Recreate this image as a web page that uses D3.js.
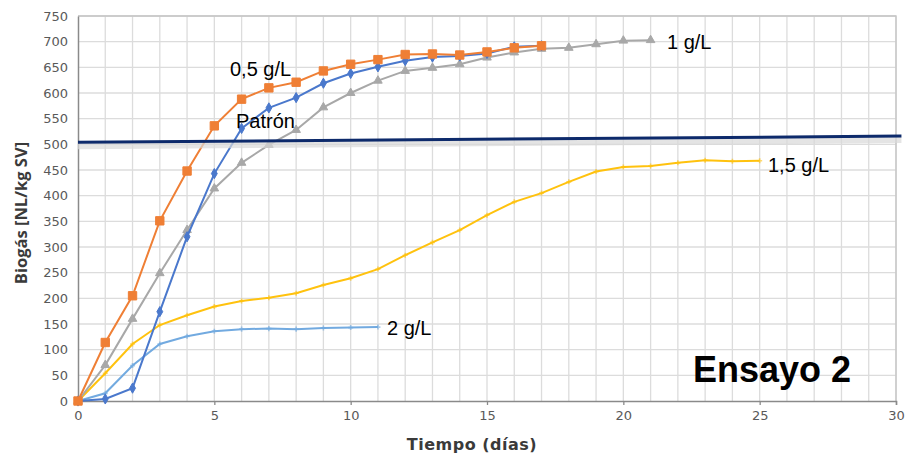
<!DOCTYPE html>
<html>
<head>
<meta charset="utf-8">
<script src="https://cdn.jsdelivr.net/npm/d3@7"></script>
<style>
  body { margin: 0; background: #fff; }
</style>
</head>
<body>
<div id="chart"></div>
<script>
// days for each series
const daysPatron = [0, 1, 2, 3, 4, 5, 6, 7, 8, 9, 10, 11, 12, 13, 14, 15, 16, 17];
const patron = [0, 4, 25, 174, 320, 443, 531, 571, 591, 619, 638, 651, 663, 670, 672, 677, 690, 692];

const daysHalf = [0, 1, 2, 3, 4, 5, 6, 7, 8, 9, 10, 11, 12, 13, 14, 15, 16, 17];
const half = [0, 114, 205, 351, 448, 536, 588, 610, 621, 643, 656, 665, 675, 676, 674, 680, 688, 692];

const daysOne = [0, 1, 2, 3, 4, 5, 6, 7, 8, 9, 10, 11, 12, 13, 14, 15, 16, 17, 18, 19, 20, 21];
const one = [0, 70, 160, 249, 333, 414, 464, 499, 528, 572, 600, 624, 643, 649, 656, 669, 679, 686, 688, 695, 702, 703];

const daysOneHalf = [0, 1, 2, 3, 4, 5, 6, 7, 8, 9, 10, 11, 12, 13, 14, 15, 16, 17, 18, 19, 20, 21, 22, 23, 24, 25];
const oneHalf = [0, 54, 111, 148, 167, 184, 195, 201, 210, 226, 239, 257, 284, 309, 333, 362, 388, 405, 427, 447, 456, 458, 464, 469, 467, 468];

const daysTwo = [0, 1, 2, 3, 4, 5, 6, 7, 8, 9, 10, 11];
const two = [0, 15, 69, 111, 126, 136, 140, 141, 140, 142, 143, 144];

// reference line (pasted over the chart, slightly tilted)
const refDays = [0, 30.2];
const refValues = [504, 516];

const xTicks = [0, 5, 10, 15, 20, 25, 30];
const yTicks = [0, 50, 100, 150, 200, 250, 300, 350, 400, 450, 500, 550, 600, 650, 700, 750];

const MARGIN = { LEFT: 78, TOP: 16 };
const WIDTH = 896 - 78, HEIGHT = 401 - 16;

const svg = d3.select("#chart").append("svg")
  .attr("width", 905)
  .attr("height", 453)
  .style("font-family", "DejaVu Sans")

const g = svg.append("g")
  .attr("transform", `translate(${MARGIN.LEFT}, ${MARGIN.TOP})`)

const x = d3.scaleLinear().domain([0, 30]).range([0, WIDTH]);
const y = d3.scaleLinear().domain([0, 750]).range([HEIGHT, 0]);

// grid: every day, every 50
g.append("g")
  .selectAll("line")
  .data(d3.range(1, 31))
  .join("line")
  .attr("x1", d => x(d)).attr("x2", d => x(d))
  .attr("y1", 0).attr("y2", HEIGHT)
  .attr("stroke", "#dcdcdc")
  .attr("stroke-width", 1.3)

g.append("g")
  .selectAll("line")
  .data(yTicks.slice(1))
  .join("line")
  .attr("x1", 0).attr("x2", WIDTH)
  .attr("y1", d => y(d)).attr("y2", d => y(d))
  .attr("stroke", "#dcdcdc")
  .attr("stroke-width", 1.3)

// frame top / right
g.append("path")
  .attr("d", `M0,0H${WIDTH}V${HEIGHT}`)
  .attr("fill", "none")
  .attr("stroke", "#c4c4c4")
  .attr("stroke-width", 1.3)

// axes
const xAxis = g.append("g")
  .attr("transform", `translate(0,${HEIGHT})`)
  .call(d3.axisBottom(x).tickValues(xTicks).tickSize(4).tickPadding(6))
const yAxis = g.append("g")
  .call(d3.axisLeft(y).tickValues(yTicks).tickSize(0).tickPadding(10))

;[xAxis, yAxis].forEach(a => {
  a.select(".domain").attr("stroke", "#8a8a8a").attr("stroke-width", 1.5)
  a.selectAll(".tick line").attr("stroke", "#8a8a8a").attr("stroke-width", 1.3)
  a.selectAll(".tick text")
    .attr("fill", "#595959")
    .style("font-family", "DejaVu Sans")
    .style("font-size", "13px")
})

// axis titles
svg.append("text")
  .attr("transform", "translate(27,213) rotate(-90)")
  .attr("text-anchor", "middle")
  .style("font-family", "Open Sans")
  .style("font-weight", "bold")
  .style("font-size", "16.5px")
  .attr("fill", "#3a3a3a")
  .text("Biogás [NL/kg SV]");

svg.append("text")
  .attr("x", 472)
  .attr("y", 450)
  .attr("text-anchor", "middle")
  .style("font-weight", "bold")
  .style("font-size", "16px")
  .style("letter-spacing", "0.5px")
  .attr("fill", "#3a3a3a")
  .text("Tiempo (días)");

const line = d3.line()
  .x(d => x(d[0]))
  .y(d => y(d[1]))

const series = [
  { name: "2 g/L", days: daysTwo, values: two, color: "#72aae0", marker: d3.symbolCross, size: 14 },
  { name: "1,5 g/L", days: daysOneHalf, values: oneHalf, color: "#ffc20e", marker: d3.symbolCross, size: 14 },
  { name: "1 g/L", days: daysOne, values: one, color: "#a8a8a8", marker: d3.symbolTriangle, size: 32 },
  { name: "Patrón", days: daysPatron, values: patron, color: "#4a78cc", marker: d3.symbolDiamond, size: 30 },
  { name: "0,5 g/L", days: daysHalf, values: half, color: "#ef7f35", marker: d3.symbolSquare, size: 70 }
];

series.forEach(s => {
  const pts = s.days.map((d, i) => [d, s.values[i]]);
  g.append("path")
    .datum(pts)
    .attr("fill", "none")
    .attr("stroke", s.color)
    .attr("stroke-width", 2)
    .attr("d", line)

  g.selectAll(null)
    .data(pts)
    .enter()
    .append("path")
    .attr("transform", d => `translate(${x(d[0])},${y(d[1])})`)
    .attr("d", d3.symbol().type(s.marker).size(s.size))
    .attr("fill", s.color)
    .attr("stroke", s.marker === d3.symbolCross ? "none" : s.color)
    .attr("opacity", s.marker === d3.symbolCross ? 0.6 : 1)
});

// reference line with its shadow
const refPts = refDays.map((d, i) => [d, refValues[i]]);
g.append("path")
  .datum(refPts)
  .attr("fill", "none")
  .attr("stroke", "#d8d8d8")
  .attr("stroke-width", 6)
  .attr("transform", "translate(0,4)")
  .attr("opacity", 0.7)
  .attr("d", line)
g.append("path")
  .datum(refPts)
  .attr("fill", "none")
  .attr("stroke", "#0d2a6b")
  .attr("stroke-width", 3)
  .attr("d", line)

// labels
const labels = [
  { text: "0,5 g/L", x: 230, y: 76 },
  { text: "Patrón", x: 236, y: 128 },
  { text: "1 g/L", x: 667, y: 49 },
  { text: "1,5 g/L", x: 768, y: 172 },
  { text: "2 g/L", x: 387, y: 335 }
];
svg.selectAll("text.lbl")
  .data(labels)
  .join("text")
  .attr("class", "lbl")
  .attr("x", d => d.x)
  .attr("y", d => d.y)
  .style("font-family", "Liberation Sans")
  .style("font-size", "20px")
  .attr("fill", "#000")
  .text(d => d.text)

svg.append("text")
  .attr("x", 693)
  .attr("y", 382)
  .style("font-family", "Liberation Sans")
  .style("font-weight", "bold")
  .style("font-size", "36px")
  .attr("fill", "#000")
  .text("Ensayo 2");
</script>
</body>
</html>
